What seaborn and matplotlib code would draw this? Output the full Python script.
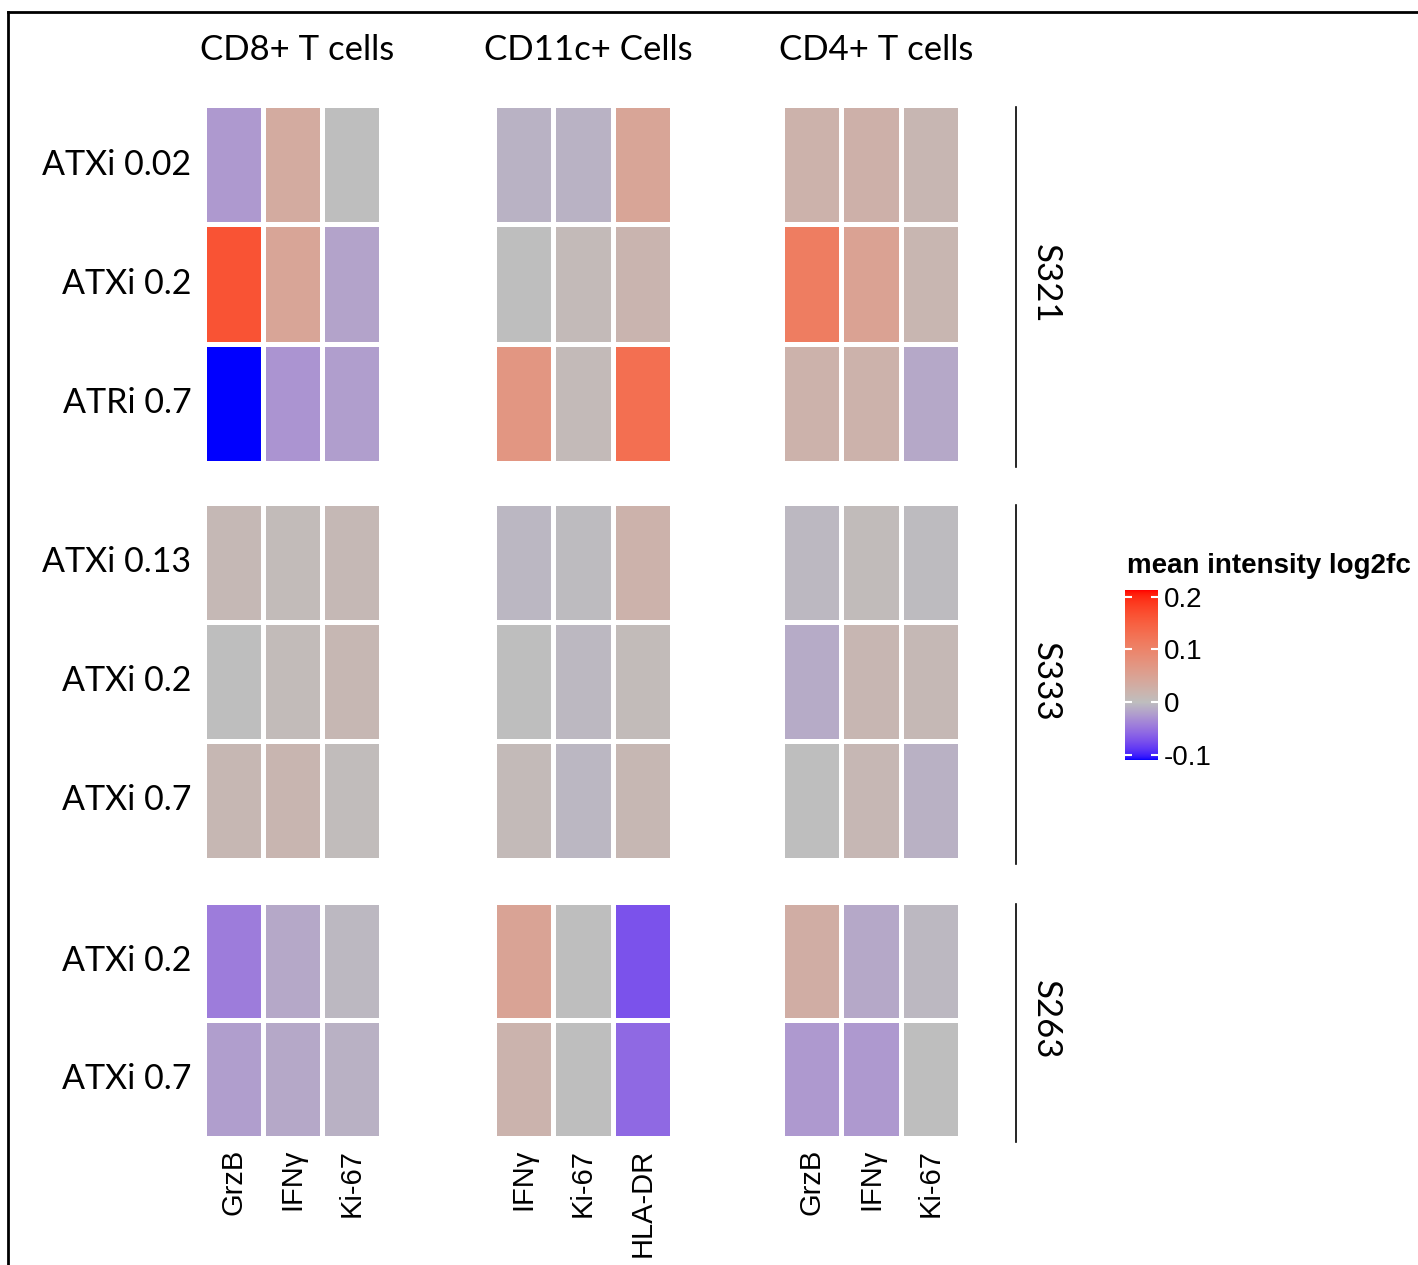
import numpy as np
import matplotlib
matplotlib.use("Agg")
import matplotlib.pyplot as plt
import seaborn as sns
from matplotlib.colors import ListedColormap
from matplotlib.lines import Line2D

# ---------------- data ----------------
markers_cd8 = ["GrzB", "IFNγ", "Ki-67"]
markers_cd11c = ["IFNγ", "Ki-67", "HLA-DR"]
markers_cd4 = ["GrzB", "IFNγ", "Ki-67"]

cell_types = ["CD8+ T cells", "CD11c+ Cells", "CD4+ T cells"]
samples = ["S321", "S333", "S263"]

treat_s321 = ["ATXi 0.02", "ATXi 0.2", "ATRi 0.7"]
treat_s333 = ["ATXi 0.13", "ATXi 0.2", "ATXi 0.7"]
treat_s263 = ["ATXi 0.2", "ATXi 0.7"]

cd8_s321 = [[-0.025, 0.035, 0.0], [0.165, 0.045, -0.018], [-0.11, -0.028, -0.022]]
cd11c_s321 = [[-0.008, -0.008, 0.045], [0.0, 0.007, 0.018], [0.07, 0.007, 0.13]]
cd4_s321 = [[0.022, 0.025, 0.014], [0.11, 0.05, 0.015], [0.022, 0.022, -0.015]]

cd8_s333 = [[0.011, 0.006, 0.011], [0.0, 0.006, 0.013], [0.013, 0.016, 0.004]]
cd11c_s333 = [[-0.005, -0.002, 0.022], [0.0, -0.004, 0.006], [0.007, -0.005, 0.013]]
cd4_s333 = [[-0.004, 0.005, -0.002], [-0.013, 0.014, 0.01], [0.0, 0.012, -0.009]]

cd8_s263 = [[-0.045, -0.015, -0.004], [-0.022, -0.015, -0.009]]
cd11c_s263 = [[0.048, 0.0, -0.073], [0.02, 0.0, -0.058]]
cd4_s263 = [[0.03, -0.015, -0.004], [-0.025, -0.025, 0.0]]

cbar_ticks = [-0.1, 0, 0.1, 0.2]
cbar_labels = ["-0.1", "0", "0.1", "0.2"]
vmin, vmax = -0.11, 0.213

# ---------------- colormap (Lab interpolation blue-grey-red) ----------------
M = np.array([[0.4124, 0.3576, 0.1805], [0.2126, 0.7152, 0.0722], [0.0193, 0.1192, 0.9505]])
Minv = np.linalg.inv(M)
wp = np.array([0.95047, 1.0, 1.08883])


def rgb2lab(c):
    c = np.asarray(c, float)
    lin = np.where(c <= 0.04045, c / 12.92, ((c + 0.055) / 1.055) ** 2.4)
    xyz = M @ lin / wp
    f = np.where(xyz > 0.008856, np.cbrt(xyz), 7.787 * xyz + 16 / 116)
    return np.array([116 * f[1] - 16, 500 * (f[0] - f[1]), 200 * (f[1] - f[2])])


def lab2rgb(lab):
    L, a, b = lab
    fy_ = (L + 16) / 116
    fx_ = fy_ + a / 500
    fz_ = fy_ - b / 200
    f = np.array([fx_, fy_, fz_])
    xyz = np.where(f ** 3 > 0.008856, f ** 3, (f - 16 / 116) / 7.787) * wp
    lin = Minv @ xyz
    lin = np.clip(lin, 0, 1)
    c = np.where(lin <= 0.0031308, 12.92 * lin, 1.055 * lin ** (1 / 2.4) - 0.055)
    return np.clip(c, 0, 1)


blue = rgb2lab([0, 0, 1])
grey = rgb2lab([190 / 255] * 3)
red = rgb2lab([1, 0, 0])
mid = (0 - vmin) / (vmax - vmin)
cols = []
N = 512
for i in range(N):
    p = i / (N - 1)
    if p <= mid:
        t = p / mid
        lab = blue + (grey - blue) * t
    else:
        t = (p - mid) / (1 - mid)
        lab = grey + (red - grey) * t
    cols.append(lab2rgb(lab))
cmap = ListedColormap(cols)

# ---------------- figure ----------------
W, H = 1418, 1265
fig = plt.figure(figsize=(W / 100, H / 100), dpi=100)
fig.patch.set_facecolor("white")

title_font = "Lato"
arial = "Liberation Sans"

col_x = [(204, 381), (494, 672), (782, 960)]
row_y = [(105, 463), (503, 860), (902, 1138)]
treatments = [treat_s321, treat_s333, treat_s263]
markers = [markers_cd8, markers_cd11c, markers_cd4]
data = [
    [cd8_s321, cd11c_s321, cd4_s321],
    [cd8_s333, cd11c_s333, cd4_s333],
    [cd8_s263, cd11c_s263, cd4_s263],
]


def fx(x):
    return x / W


def fy(y):
    return 1 - y / H


mesh = None
for r in range(3):
    for c in range(3):
        x0, x1 = col_x[c]
        y0, y1 = row_y[r]
        ax = fig.add_axes([fx(x0), fy(y1), (x1 - x0) / W, (y1 - y0) / H])
        hm = sns.heatmap(np.array(data[r][c]), ax=ax, cmap=cmap, vmin=vmin, vmax=vmax,
                         cbar=False, linewidths=2.5, linecolor="white",
                         xticklabels=markers[c], yticklabels=treatments[r])
        mesh = hm.collections[0]
        ax.tick_params(length=0)
        if c == 0:
            ax.set_yticklabels(treatments[r], rotation=0, fontsize=24.5,
                               family=title_font, ha="right")
            ax.tick_params(axis="y", pad=9)
        else:
            ax.set_yticks([])
        if r == 2:
            ax.set_xticklabels(markers[c], rotation=90, fontsize=21,
                               family=arial, va="top", ha="center")
            ax.tick_params(axis="x", pad=8)
        else:
            ax.set_xticks([])
        ax.set_xlabel("")
        ax.set_ylabel("")

# column titles
for c, name in enumerate(cell_types):
    x0, x1 = col_x[c]
    fig.text(fx((x0 + x1) / 2 + 5), fy(50), name, fontsize=25, family=title_font,
             ha="center", va="center")

# strip lines and labels
for r, s in enumerate(samples):
    y0, y1 = row_y[r]
    fig.add_artist(Line2D([fx(1016), fx(1016)], [fy(y0 + 2), fy(y1 + 4)],
                          color="black", lw=1.2, transform=fig.transFigure))
    fig.text(fx(1046), fy((y0 + y1) / 2), s, rotation=270, fontsize=25,
             family=title_font, ha="center", va="center")

# colorbar
cax = fig.add_axes([fx(1125), fy(760), 33 / W, 170 / H])
cb = fig.colorbar(mesh, cax=cax, ticks=cbar_ticks)
cb.outline.set_visible(False)
cb.ax.set_yticklabels(cbar_labels, family=arial, fontsize=20)
cb.ax.tick_params(length=5, width=1.5, color="white", pad=4, direction="in", left=True, right=True)
cb.ax.tick_params(labelleft=False)
fig.text(fx(1127), fy(566), "mean intensity log2fc", fontsize=20, fontweight="bold",
         family=arial, ha="left", va="center")

# frame lines
fig.add_artist(Line2D([fx(8), 1.0], [fy(12), fy(12)], color="black", lw=2,
                      transform=fig.transFigure))
fig.add_artist(Line2D([fx(8), fx(8)], [fy(12), 0.0], color="black", lw=2,
                      transform=fig.transFigure))

fig.savefig("out.png", dpi=100, facecolor="white")
